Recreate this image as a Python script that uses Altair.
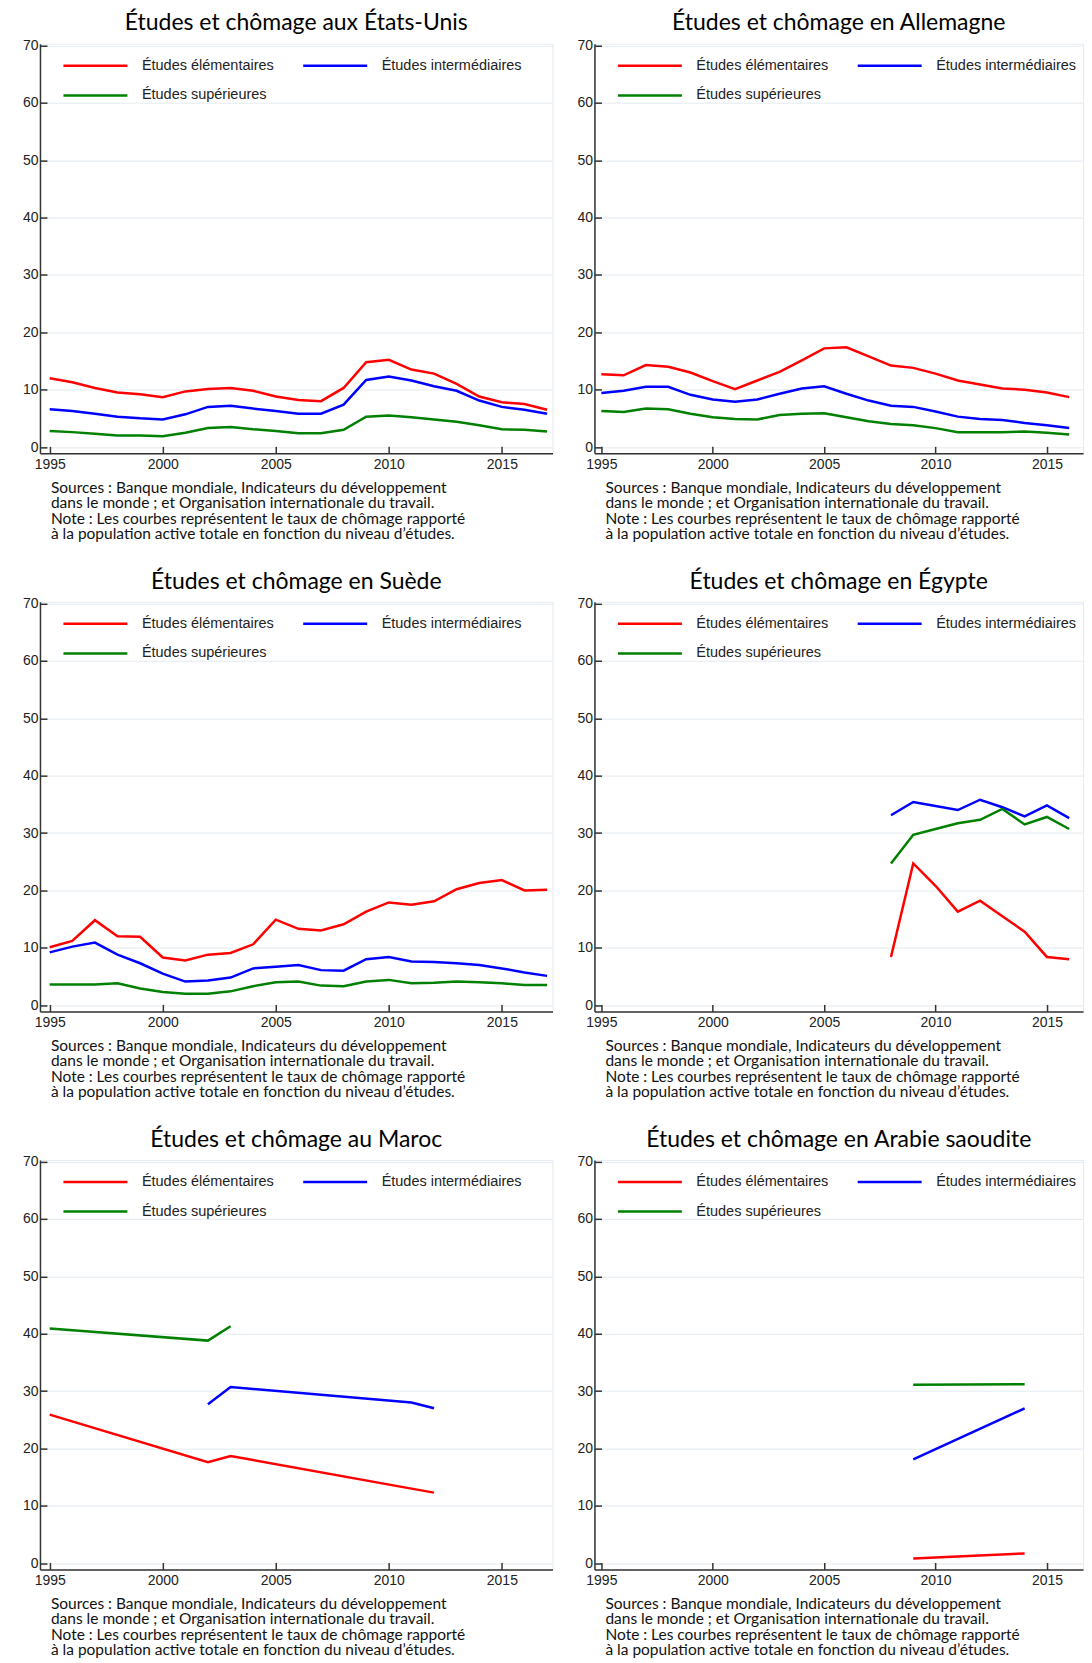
import altair as alt
import pandas as pd

LEVELS = ["Études élémentaires", "Études intermédiaires", "Études supérieures"]
COLORS = ["#ff0000", "#0000ff", "#008000"]
FOOTNOTE = [
    "Sources : Banque mondiale, Indicateurs du développement",
    "dans le monde ; et Organisation internationale du travail.",
    "Note : Les courbes représentent le taux de chômage rapporté",
    "à la population active totale en fonction du niveau d’études.",
]
X_TICKS = [1995, 2000, 2005, 2010, 2015]
Y_TICKS = [0, 10, 20, 30, 40, 50, 60, 70]

# --- États-Unis ---
US_YEARS = list(range(1995, 2018))
US_ELEM = [12.0, 11.3, 10.3, 9.5, 9.2, 8.7, 9.7, 10.1, 10.3, 9.8, 8.8, 8.2, 8.0,
           10.3, 14.8, 15.2, 13.5, 12.8, 11.0, 8.8, 7.8, 7.5, 6.5]
US_INTER = [6.6, 6.3, 5.8, 5.3, 5.0, 4.8, 5.7, 7.0, 7.2, 6.7, 6.3, 5.8, 5.8,
            7.4, 11.7, 12.3, 11.6, 10.6, 9.8, 8.1, 7.0, 6.5, 5.8]
US_SUP = [2.8, 2.6, 2.3, 2.0, 2.0, 1.9, 2.5, 3.3, 3.5, 3.1, 2.8, 2.4, 2.4,
          3.0, 5.3, 5.5, 5.2, 4.8, 4.4, 3.8, 3.1, 3.0, 2.7]

# --- Allemagne ---
DE_YEARS = list(range(1995, 2017))
DE_ELEM = [12.7, 12.5, 14.3, 14.0, 13.0, 11.5, 10.1, 11.6, 13.1, 15.1, 17.2, 17.4,
           15.8, 14.2, 13.8, 12.8, 11.6, 10.9, 10.2, 10.0, 9.5, 8.7]
DE_INTER = [9.4, 9.8, 10.5, 10.5, 9.1, 8.3, 7.9, 8.3, 9.3, 10.2, 10.6, 9.3,
            8.1, 7.2, 7.0, 6.2, 5.3, 4.9, 4.7, 4.2, 3.8, 3.3]
DE_SUP = [6.3, 6.1, 6.7, 6.6, 5.8, 5.2, 4.9, 4.8, 5.6, 5.8, 5.9, 5.2,
          4.5, 4.0, 3.8, 3.3, 2.6, 2.6, 2.6, 2.7, 2.5, 2.2]

# --- Suède ---
SE_YEARS = list(range(1995, 2018))
SE_ELEM = [10.1, 11.2, 14.8, 12.0, 11.9, 8.3, 7.8, 8.8, 9.1, 10.6, 14.9, 13.3, 13.0,
           14.1, 16.3, 17.9, 17.5, 18.1, 20.2, 21.3, 21.8, 20.0, 20.1]
SE_INTER = [9.2, 10.2, 10.9, 8.8, 7.3, 5.5, 4.1, 4.3, 4.8, 6.4, 6.7, 7.0, 6.1,
            6.0, 8.0, 8.4, 7.6, 7.5, 7.3, 7.0, 6.4, 5.7, 5.1]
SE_SUP = [3.6, 3.6, 3.6, 3.8, 2.9, 2.3, 2.0, 2.0, 2.4, 3.3, 4.0, 4.1, 3.4,
          3.3, 4.1, 4.4, 3.8, 3.9, 4.1, 4.0, 3.8, 3.5, 3.5]

# --- Égypte ---
EG_YEARS = list(range(2008, 2017))
EG_ELEM = [8.4, 24.7, 20.8, 16.3, 18.2, 15.5, 12.8, 8.4, 8.0]
EG_INTER = [33.1, 35.4, 34.7, 34.0, 35.8, 34.5, 32.9, 34.8, 32.6]
EG_SUP = [24.7, 29.7, 30.7, 31.7, 32.3, 34.2, 31.5, 32.8, 30.7]

# --- Maroc ---
MA_ELEM_YEARS = [1995, 2002, 2003, 2011, 2012]
MA_ELEM = [25.9, 17.6, 18.7, 13.0, 12.3]
MA_INTER_YEARS = [2002, 2003, 2011, 2012]
MA_INTER = [27.7, 30.7, 28.0, 27.0]
MA_SUP_YEARS = [1995, 2002, 2003]
MA_SUP = [40.9, 38.8, 41.3]

# --- Arabie saoudite ---
SA_YEARS = [2009, 2014]
SA_ELEM = [0.8, 1.7]
SA_INTER = [18.1, 27.0]
SA_SUP = [31.1, 31.2]


def make_df(series):
    rows = []
    for level, years, values in series:
        for yr, v in zip(years, values):
            rows.append({"year": yr, "value": v, "level": level})
    return pd.DataFrame(rows)


def panel(df, title, xmin, xmax, width):
    return alt.Chart(df).mark_line(strokeWidth=2.5, clip=True).encode(
        x=alt.X("year:Q",
                scale=alt.Scale(domain=[xmin, xmax], nice=False, zero=False),
                axis=alt.Axis(values=X_TICKS, format="d", labelFlush=False, grid=False,
                              title=FOOTNOTE, titleAnchor="start", titleAlign="left",
                              titleBaseline="top", titleX=10.5, titleY=27,
                              titleFont="Lato", titleFontSize=15.5, titleFontWeight="normal",
                              titleColor="#111", titleLineHeight=15.4,
                              tickSize={"expr": "-7"}, labelPadding=11)),
        y=alt.Y("value:Q",
                scale=alt.Scale(domain=[-1.1, 70.3], nice=False),
                axis=alt.Axis(values=Y_TICKS, title=None, grid=True,
                              tickSize={"expr": "-7"}, labelPadding=9)),
        color=alt.Color("level:N",
                        scale=alt.Scale(domain=LEVELS, range=COLORS),
                        legend=alt.Legend(title=None, orient="none", legendX=22, legendY=12,
                                          columns=2, direction="horizontal")),
    ).properties(width=width, height=410,
                 title=alt.TitleParams(title, frame="group"))


L = (1994.57, 2017.24, 513)
R = (1994.69, 2016.62, 489)

panels = [
    panel(make_df([(LEVELS[0], US_YEARS, US_ELEM), (LEVELS[1], US_YEARS, US_INTER),
                   (LEVELS[2], US_YEARS, US_SUP)]),
          "Études et chômage aux États-Unis", *L),
    panel(make_df([(LEVELS[0], DE_YEARS, DE_ELEM), (LEVELS[1], DE_YEARS, DE_INTER),
                   (LEVELS[2], DE_YEARS, DE_SUP)]),
          "Études et chômage en Allemagne", *R),
    panel(make_df([(LEVELS[0], SE_YEARS, SE_ELEM), (LEVELS[1], SE_YEARS, SE_INTER),
                   (LEVELS[2], SE_YEARS, SE_SUP)]),
          "Études et chômage en Suède", *L),
    panel(make_df([(LEVELS[0], EG_YEARS, EG_ELEM), (LEVELS[1], EG_YEARS, EG_INTER),
                   (LEVELS[2], EG_YEARS, EG_SUP)]),
          "Études et chômage en Égypte", *R),
    panel(make_df([(LEVELS[0], MA_ELEM_YEARS, MA_ELEM), (LEVELS[1], MA_INTER_YEARS, MA_INTER),
                   (LEVELS[2], MA_SUP_YEARS, MA_SUP)]),
          "Études et chômage au Maroc", *L),
    panel(make_df([(LEVELS[0], SA_YEARS, SA_ELEM), (LEVELS[1], SA_YEARS, SA_INTER),
                   (LEVELS[2], SA_YEARS, SA_SUP)]),
          "Études et chômage en Arabie saoudite", *R),
]

chart = alt.concat(*panels, columns=2, spacing={"row": 26.6, "column": 22}).resolve_scale(
    color="independent"
).properties(
    padding={"left": 13, "top": 3, "right": 0, "bottom": 0}
).configure_view(
    stroke="#e3eaf0"
).configure_axis(
    gridColor="#e3eaf0", domainColor="#333333", tickColor="#333333", domainWidth=1.5,
    tickWidth=1.5, labelFont="Liberation Sans", labelFontSize=14, labelColor="#222222"
).configure_title(
    font="Lato", fontSize=23, fontWeight="normal", color="#000000", anchor="middle", offset=3
).configure_legend(
    symbolType="stroke", symbolSize=4096, symbolStrokeWidth=2.5, clipHeight=20,
    rowPadding=9.7, columnPadding=27, labelOffset=13, padding=0,
    labelFont="Liberation Sans", labelFontSize=14.5, labelColor="#222222", labelLimit=300
)

chart.save("out.html", embed_options={"renderer": "svg", "actions": False})
